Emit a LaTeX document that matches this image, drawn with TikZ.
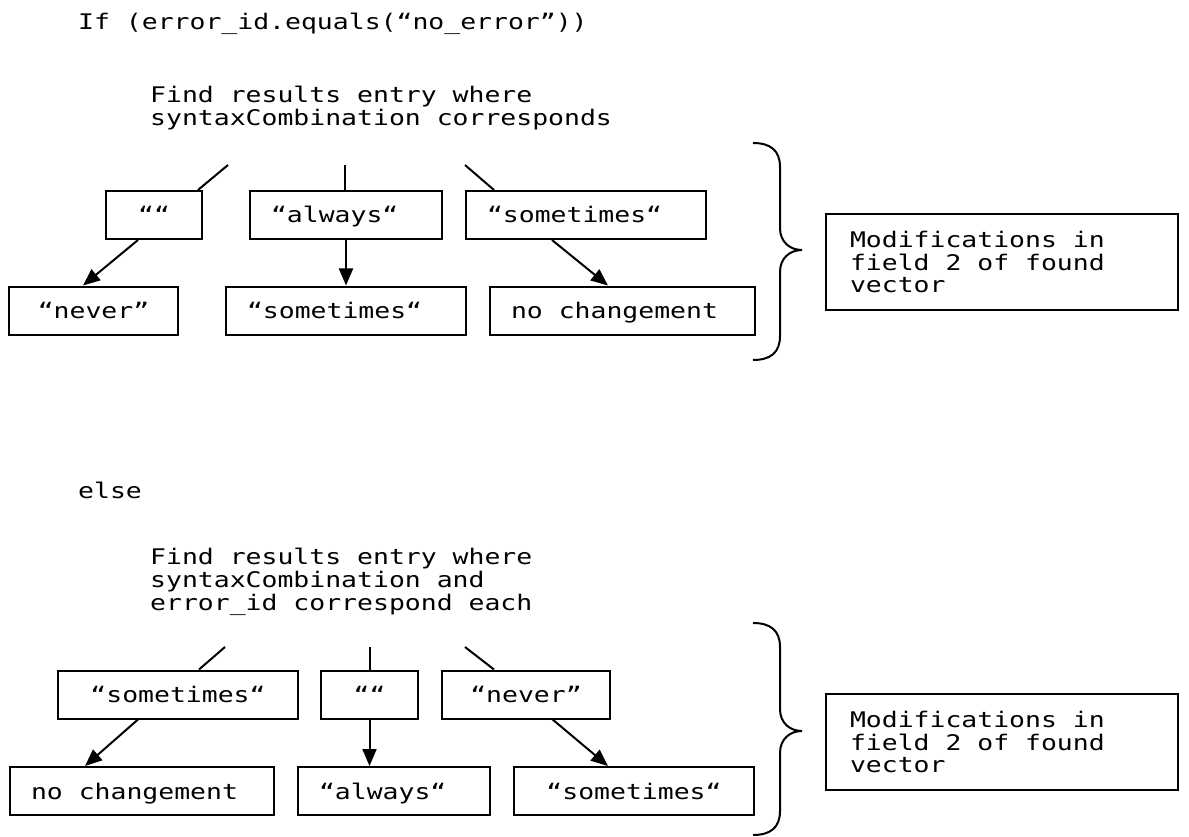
\documentclass[tikz,border=0pt]{standalone}
\usepackage{fontspec}
\setmonofont{DejaVu Sans Mono}[FakeStretch=1.23]
\usetikzlibrary{arrows.meta, calc}
\tikzset{
    codetext/.style={anchor=base west, inner sep=0pt},
    findtext/.style={anchor=north west, inner sep=0pt, align=left},
    valbox/.style={rectangle, draw=black, line width=2pt, minimum height=48pt, text height=16pt, text depth=0pt, inner xsep=21pt},
    midbox/.style={valbox, minimum width=#1pt},
    leftbox/.style={valbox, text width=#1pt, align=flush left},
    modbox/.style={rectangle, draw=black, line width=2pt, text width=304pt, inner xsep=24pt, minimum height=96pt, align=flush left},
    branch/.style={line width=2pt},
    flowarrow/.style={-{Triangle[length=17pt, width=14pt]}, line width=2pt},
}
\begin{document}
\begin{tikzpicture}[x=1pt, y=-1pt, font=\ttfamily\fontsize{21.5pt}{22.8pt}\selectfont]
    \useasboundingbox (0,0) rectangle (1189,837);

    % no error case
    \node[codetext] (iftxt) at (78,30) {If (error\_id.equals(“no\_error”))};
    \node[findtext] (find1) at (150,86) {Find results entry where\\syntaxCombination corresponds};
    \node[midbox=96] (t1) at (154,215) {““};
    \node[leftbox=150] (t2) at (346,215) {“always“};
    \node[leftbox=198] (t3) at (586,215) {“sometimes“};
    \node[midbox=169] (b1) at (93.5,310.5) {“never”};
    \node[leftbox=198] (b2) at (346,310.5) {“sometimes“};
    \node[leftbox=223] (b3) at (622.5,310.5) {no changement};
    \coordinate (lt1) at (228,165);
    \coordinate (lt2) at (345,165);
    \coordinate (lt3) at (465,165);
    \draw[branch] (lt1) -- ([xshift=44pt]t1.north);
    \draw[branch] (lt2) -- (lt2 |- t2.north);
    \draw[branch] (lt3) -- ([xshift=-92pt]t3.north);
    \draw[flowarrow] ([xshift=-16pt]t1.south) -- ([xshift=-10.5pt]b1.north);
    \draw[flowarrow] (t2.south) -- (t2.south |- b2.north);
    \draw[flowarrow] ([xshift=-34pt]t3.south) -- ([xshift=-14.5pt]b3.north);
    \node[modbox] (mod1) at (1002,262) {Modifications in\\field 2 of found\\vector};

    % error case
    \node[codetext] (elsetxt) at (78,498) {else};
    \node[findtext] (find2) at (150,548) {Find results entry where\\syntaxCombination and\\error\_id correspond each};
    \node[midbox=240] (u1) at (178,694.5) {“sometimes“};
    \node[midbox=97] (u2) at (369.5,694.5) {““};
    \node[midbox=168] (u3) at (526,694.5) {“never”};
    \node[leftbox=222] (v1) at (142,791) {no changement};
    \node[leftbox=150] (v2) at (394,791) {“always“};
    \node[midbox=240] (v3) at (634,791) {“sometimes“};
    \coordinate (lb1) at (225,647);
    \coordinate (lb2) at (370,647);
    \coordinate (lb3) at (465,647);
    \draw[branch] (lb1) -- ([xshift=21pt]u1.north);
    \draw[branch] (lb2) -- (lb2 |- u2.north);
    \draw[branch] (lb3) -- ([xshift=-32pt]u3.north);
    \draw[flowarrow] ([xshift=-40pt]u1.south) -- ([xshift=-57pt]v1.north);
    \draw[flowarrow] (u2.south) -- (u2.south |- v2.north);
    \draw[flowarrow] ([xshift=26.6pt]u3.south) -- ([xshift=-26pt]v3.north);
    \node[modbox] (mod2) at (1002,742) {Modifications in\\field 2 of found\\vector};

    \foreach \yt/\ym/\yb in {143/250/360, 623/731/835}
        \draw[branch] (753,\yt) .. controls (770,\yt) and (780,\yt+7) .. (780,\yt+24) -- (780,\ym-22)
            .. controls (780,\ym-8) and (790,\ym) .. (802,\ym) .. controls (790,\ym) and (780,\ym+8) .. (780,\ym+22)
            -- (780,\yb-24) .. controls (780,\yb-7) and (770,\yb) .. (753,\yb);
\end{tikzpicture}
\end{document}
